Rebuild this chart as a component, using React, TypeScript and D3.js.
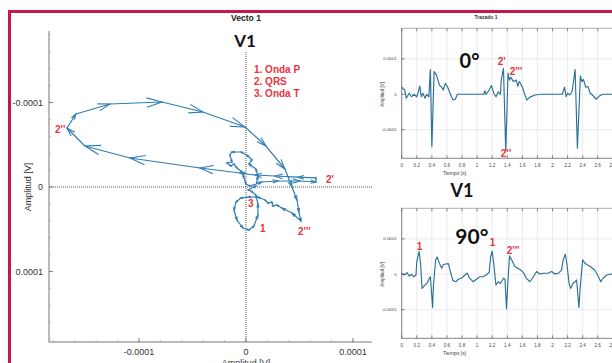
import React from "react";
import * as d3 from "d3";

// ---------- Left: vectorcardiogram loop (units of 1e-4 V) ----------
const VCG: [number, number][] = [
  [0.019, 0.036], [0.093, -0.012], [0.112, -0.13], [0.093, -0.213], [0.028, -0.272], [0.056, -0.32],
  [0.009, -0.379], [-0.047, -0.414], [-0.131, -0.414], [-0.15, -0.379], [-0.131, -0.296], [-0.178, -0.284],
  [-0.14, -0.249], [-0.112, -0.272], [-0.084, -0.225], [-0.037, -0.178], [-0.019, -0.107], [0.0, -0.036],
  [0.037, -0.012],
  [0.15, -0.059], [0.299, -0.071], [0.505, -0.071], [0.654, -0.059], [0.654, -0.107], [0.486, -0.118],
  [0.271, -0.13], [0.084, -0.142], [-0.056, -0.166], [-0.43, -0.225], [-1.084, -0.343], [-1.505, -0.485],
  [-1.673, -0.698], [-1.589, -0.864], [-1.271, -0.982], [-0.785, -1.006], [-0.402, -0.888], [-0.009, -0.71],
  [0.187, -0.485], [0.364, -0.213], [0.43, 0.0], [0.477, 0.154], [0.495, 0.296], [0.514, 0.402],
  [0.43, 0.308], [0.336, 0.249], [0.29, 0.213], [0.252, 0.225], [0.243, 0.178], [0.206, 0.189],
  [0.178, 0.154], [0.112, 0.118], [0.019, 0.118], [-0.047, 0.13],
  [-0.093, 0.178], [-0.112, 0.272], [-0.084, 0.391], [-0.028, 0.485], [0.028, 0.509], [0.075, 0.462],
  [0.112, 0.331], [0.112, 0.201], [0.093, 0.095], [0.047, 0.047], [0.019, 0.036],
];
const VCG_TICK_VALUES = [-1, 0, 1];
const VCG_TICK_LABELS = ["-0.0001", "0", "0.0001"];
const LEGEND_LINES = ["1. Onda P", "2. QRS", "3. Onda T"];
const VCG_NOTES: { text: string; x: number; y: number }[] = [
  { text: "2''", x: -1.785, y: -0.639 },
  { text: "2'", x: 0.748, y: -0.047 },
  { text: "3", x: 0.019, y: 0.237 },
  { text: "1", x: 0.131, y: 0.533 },
  { text: "2'''", x: 0.486, y: 0.568 },
];

// ---------- Right: lead traces, time [s] vs amplitude (units of 1e-4 V) ----------
const LEAD_0: [number, number][] = [
  [0.0, 0.2], [0.04, 0.12], [0.06, -0.11], [0.1, 0.03], [0.13, -0.07], [0.16, 0.0], [0.2, -0.07],
  [0.22, 0.07], [0.24, 0.23], [0.26, -0.07], [0.28, 0.03], [0.31, -0.11], [0.33, 0.0], [0.36, -0.07],
  [0.38, 0.7], [0.4, -1.48], [0.43, 0.64], [0.46, 0.55], [0.5, 0.26], [0.53, 0.2], [0.55, 0.12],
  [0.58, 0.31], [0.61, 0.2], [0.66, -0.07], [0.68, -0.16], [0.71, -0.14], [0.74, 0.0], [1.09, 0.0],
  [1.1, 0.1], [1.12, 0.0], [1.16, 0.12], [1.19, 0.25], [1.22, 0.03], [1.25, -0.07], [1.28, 0.07],
  [1.31, 0.0], [1.32, 0.4], [1.35, 0.73], [1.38, -1.62], [1.41, 0.6], [1.43, 0.4], [1.45, 0.48],
  [1.48, 0.36], [1.52, 0.4], [1.54, 0.23], [1.56, 0.36], [1.6, 0.21], [1.63, 0.0], [1.66, -0.16],
  [1.7, -0.08], [1.77, -0.02], [1.85, 0.0], [2.13, 0.0], [2.16, 0.2], [2.18, -0.07], [2.2, 0.03],
  [2.23, -0.02], [2.26, 0.08], [2.3, 0.7], [2.33, -1.52], [2.37, 0.52], [2.39, 0.36], [2.41, 0.42],
  [2.44, 0.2], [2.47, 0.22], [2.5, 0.03], [2.53, -0.02], [2.58, -0.14], [2.62, -0.05], [2.67, 0.0],
  [2.8, 0.0],
];
const LEAD_90: [number, number][] = [
  [0.0, 0.03], [0.04, -0.02], [0.07, 0.05], [0.1, -0.05], [0.13, 0.0], [0.16, -0.07], [0.19, -0.02],
  [0.2, 0.36], [0.23, 0.65], [0.25, 0.31], [0.27, -0.4], [0.31, -0.3], [0.34, -0.24], [0.36, -0.14],
  [0.38, -0.07], [0.41, -0.94], [0.42, -0.35], [0.45, 0.41], [0.47, 0.49], [0.5, 0.31], [0.53, 0.17],
  [0.55, 0.27], [0.58, 0.29], [0.62, 0.3], [0.64, 0.12], [0.68, -0.18], [0.72, -0.21], [0.75, -0.14],
  [0.79, -0.11], [0.84, -0.02], [0.87, 0.03], [0.9, -0.11], [0.95, -0.21], [0.99, -0.14], [1.04, -0.07],
  [1.08, -0.07], [1.12, -0.02], [1.16, 0.05], [1.18, 0.5], [1.2, 0.65], [1.22, 0.31], [1.25, -0.3],
  [1.28, -0.21], [1.31, -0.26], [1.35, -0.11], [1.37, -0.14], [1.39, -0.97], [1.41, -0.16], [1.43, 0.52],
  [1.47, 0.36], [1.5, 0.22], [1.54, 0.17], [1.58, 0.12], [1.62, 0.03], [1.65, -0.11], [1.7, -0.21],
  [1.74, -0.09], [1.79, 0.08], [1.83, 0.01], [1.88, 0.03], [1.94, 0.03], [1.99, 0.08], [2.03, 0.01],
  [2.08, 0.03], [2.12, 0.12], [2.14, 0.39], [2.17, 0.57], [2.19, 0.31], [2.22, -0.26], [2.24, -0.4],
  [2.27, -0.26], [2.3, -0.21], [2.32, -0.16], [2.35, -0.94], [2.37, -0.3], [2.4, 0.41], [2.43, 0.31],
  [2.46, 0.27], [2.5, 0.22], [2.53, 0.17], [2.56, 0.12], [2.61, -0.07], [2.64, -0.21], [2.67, -0.11],
  [2.72, -0.02], [2.79, 0.01],
];
const TIME_TICKS = [0, 0.2, 0.4, 0.6, 0.8, 1, 1.2, 1.4, 1.6, 1.8, 2, 2.2, 2.4, 2.6, 2.8, 3];
const TIME_LABELS = ["0", "0.2", "0.4", "0.6", "0.8", "1", "1.2", "1.4", "1.6", "1.8", "2", "2.2", "2.4", "2.6", "2.8", "3"];
const AMP_TICKS = [-1, 0, 1];
const AMP_LABELS = ["-0.0001", "0", "0.0001"];
const NOTES_0: { text: string; t: number; v: number }[] = [
  { text: "2'", t: 1.273, v: 0.83 },
  { text: "2'''", t: 1.432, v: 0.545 },
  { text: "2''", t: 1.313, v: -1.78 },
];
const NOTES_90: { text: string; t: number; v: number }[] = [
  { text: "1", t: 0.199, v: 0.686 },
  { text: "1", t: 1.167, v: 0.8 },
  { text: "2'''", t: 1.393, v: 0.573 },
];

const RED = "#e8343c";
const BLUE = "#2f7db4";
const TRACE = "#2a7199";
const SANS = "'Liberation Sans', Arial, sans-serif";
const BIG = "Lato, 'Open Sans', sans-serif";

function LeftPlot() {
  const x = d3.scaleLinear().domain([-1.841, 1.178]).range([49, 372]);
  const y = d3.scaleLinear().domain([-1.846, 1.834]).range([31, 342]);
  const pts = VCG.map(([a, b]) => [x(a), y(b)] as [number, number]);
  const line = d3.line<[number, number]>().x((d) => d[0]).y((d) => d[1]);
  const heads = pts.slice(1).map((p, i) => {
    const q = pts[i];
    const dx = p[0] - q[0];
    const dy = p[1] - q[1];
    const len = Math.hypot(dx, dy);
    const h = Math.min(0.35 * len, 16);
    const ang = Math.atan2(dy, dx);
    const a = 0.3;
    const w1 = [p[0] - h * Math.cos(ang - a), p[1] - h * Math.sin(ang - a)];
    const w2 = [p[0] - h * Math.cos(ang + a), p[1] - h * Math.sin(ang + a)];
    return `M${w1[0]},${w1[1]}L${p[0]},${p[1]}L${w2[0]},${w2[1]}`;
  });
  const minorX = d3.range(-1.8, 1.2, 0.2);
  const minorY = d3.range(-1.8, 1.81, 0.2);
  return (
    <g>
      <text x={246} y={21} textAnchor="middle" fontFamily={SANS} fontWeight="bold" fontSize={8.6} fill="#222">
        Vecto 1
      </text>
      {/* dotted cross at origin */}
      <line x1={x(0)} x2={x(0)} y1={52} y2={342} stroke="#555" strokeWidth={1} strokeDasharray="1 1" />
      <line x1={49} x2={372} y1={y(0)} y2={y(0)} stroke="#555" strokeWidth={1} strokeDasharray="1 1" />
      {/* axes */}
      <line x1={49} x2={49} y1={31} y2={342} stroke="#777" strokeWidth={1} />
      <line x1={49} x2={372} y1={342} y2={342} stroke="#777" strokeWidth={1} />
      {minorX.map((v, i) => (
        <line key={"mx" + i} x1={x(v)} x2={x(v)} y1={342} y2={340} stroke="#999" strokeWidth={0.6} />
      ))}
      {minorY.map((v, i) => (
        <line key={"my" + i} x1={49} x2={51} y1={y(v)} y2={y(v)} stroke="#999" strokeWidth={0.6} />
      ))}
      {VCG_TICK_VALUES.map((v, i) => (
        <g key={"t" + i}>
          <line x1={49} x2={53} y1={y(v)} y2={y(v)} stroke="#666" strokeWidth={0.8} />
          <line x1={x(v)} x2={x(v)} y1={342} y2={338} stroke="#666" strokeWidth={0.8} />
          <text x={43} y={y(v) + 3.2} textAnchor="end" fontFamily={SANS} fontSize={9} fill="#333">
            {VCG_TICK_LABELS[i]}
          </text>
          <text x={x(v)} y={355} textAnchor="middle" fontFamily={SANS} fontSize={9} fill="#333">
            {VCG_TICK_LABELS[i]}
          </text>
        </g>
      ))}
      <text x={246} y={366} textAnchor="middle" fontFamily={SANS} fontSize={9} fill="#333">
        Amplitud [V]
      </text>
      <text transform={`translate(31,187) rotate(-90)`} textAnchor="middle" fontFamily={SANS} fontSize={9} fill="#333">
        Amplitud [V]
      </text>
      {/* loop */}
      <path d={line(pts) || ""} fill="none" stroke={BLUE} strokeWidth={1.2} strokeLinejoin="round" />
      {heads.map((d, i) => (
        <path key={"h" + i} d={d} fill="none" stroke={BLUE} strokeWidth={1.1} />
      ))}
      <text x={245} y={47} textAnchor="middle" fontFamily={BIG} fontWeight="bold" fontSize={17} fill="#111">
        V1
      </text>
      {LEGEND_LINES.map((s, i) => (
        <text key={"l" + i} x={254} y={72.5 + i * 12} fontFamily={SANS} fontWeight="bold" fontSize={10} fill={RED}>
          {s}
        </text>
      ))}
      {VCG_NOTES.map((n, i) => (
        <text key={"n" + i} x={x(n.x)} y={y(n.y)} fontFamily={SANS} fontWeight="bold" fontSize={10} fill={RED}>
          {n.text}
        </text>
      ))}
    </g>
  );
}

function LeadPanel({ data, top, bottom, title, notes }: {
  data: [number, number][];
  top: number;
  bottom: number;
  title?: string;
  notes: { text: string; t: number; v: number }[];
}) {
  const left = 401.7;
  const x = d3.scaleLinear().domain([0, 3]).range([left, left + 226.2]);
  const y = d3.scaleLinear().domain([-1.808, 1.864]).range([bottom, top]);
  const line = d3.line<[number, number]>().x((d) => x(d[0])).y((d) => y(d[1]));
  const right = x(3);
  return (
    <g>
      {TIME_TICKS.map((t, i) => (
        <line key={"gv" + i} x1={x(t)} x2={x(t)} y1={top} y2={bottom} stroke="#e2e2e2" strokeWidth={0.7} />
      ))}
      {AMP_TICKS.map((v, i) => (
        <line key={"gh" + i} x1={left} x2={right} y1={y(v)} y2={y(v)} stroke="#e2e2e2" strokeWidth={0.7} />
      ))}
      <path d={line(data) || ""} fill="none" stroke={TRACE} strokeWidth={1.15} strokeLinejoin="round" />
      <line x1={left} x2={right} y1={top} y2={top} stroke="#888" strokeWidth={0.7} />
      <line x1={left} x2={right} y1={bottom} y2={bottom} stroke="#666" strokeWidth={0.8} />
      <line x1={left} x2={left} y1={top} y2={bottom} stroke="#666" strokeWidth={0.8} />
      {TIME_TICKS.map((t, i) => (
        <g key={"tt" + i}>
          <line x1={x(t)} x2={x(t)} y1={bottom} y2={bottom - 3} stroke="#555" strokeWidth={0.7} />
          <line x1={x(t)} x2={x(t)} y1={top} y2={top + 3} stroke="#555" strokeWidth={0.7} />
          <text x={x(t)} y={bottom + 9} textAnchor="middle" fontFamily={SANS} fontSize={4.6} fill="#444">
            {TIME_LABELS[i]}
          </text>
        </g>
      ))}
      {AMP_TICKS.map((v, i) => (
        <g key={"at" + i}>
          <line x1={left} x2={left + 3} y1={y(v)} y2={y(v)} stroke="#555" strokeWidth={0.7} />
          <text x={left - 5} y={y(v) + 1.6} textAnchor="end" fontFamily={SANS} fontSize={4.4} fill="#444">
            {AMP_LABELS[i]}
          </text>
        </g>
      ))}
      <text x={x(0.7)} y={bottom + 16.5} textAnchor="middle" fontFamily={SANS} fontSize={5} fill="#444">
        Tiempo [s]
      </text>
      <text transform={`translate(383.5,${y(0)}) rotate(-90)`} textAnchor="middle" fontFamily={SANS} fontSize={4.6} fill="#444">
        Amplitud [V]
      </text>
      {title && (
        <text x={486} y={top - 9} textAnchor="middle" fontFamily={SANS} fontWeight="bold" fontSize={5} fill="#333">
          {title}
        </text>
      )}
      {notes.map((n, i) => (
        <text key={"nn" + i} x={x(n.t)} y={y(n.v)} fontFamily={SANS} fontWeight="bold" fontSize={10} fill={RED}>
          {n.text}
        </text>
      ))}
    </g>
  );
}

export default function App() {
  const t = d3.scaleLinear().domain([0, 3]).range([401.7, 627.9]);
  const yTop = d3.scaleLinear().domain([-1.808, 1.864]).range([158.3, 28.3]);
  const yBot = d3.scaleLinear().domain([-1.808, 1.864]).range([338.3, 208.3]);
  return (
    <svg
      width={612}
      height={363}
      viewBox="0 0 612 363"
      style={{ position: "absolute", left: 0, top: 0, background: "#fff" }}
    >
      <rect x={0} y={0} width={612} height={363} fill="#fff" />
      <LeftPlot />
      <LeadPanel data={LEAD_0} top={28.3} bottom={158.3} title="Trazado 1" notes={NOTES_0} />
      <LeadPanel data={LEAD_90} top={208.3} bottom={338.3} notes={NOTES_90} />
      <text x={t(0.9)} y={yTop(0.743)} textAnchor="middle" fontFamily={BIG} fontWeight="bold" fontSize={20} fill="#111">
        0°
      </text>
      <text x={t(0.93)} y={yBot(0.856)} textAnchor="middle" fontFamily={BIG} fontWeight="bold" fontSize={21} fill="#111">
        90°
      </text>
      <text x={462} y={197} textAnchor="middle" fontFamily={BIG} fontWeight="bold" fontSize={18} fill="#111">
        V1
      </text>
      {/* crimson frame */}
      <rect x={8} y={10} width={604} height={3} fill="#c4174a" />
      <rect x={8} y={10} width={3} height={353} fill="#c4174a" />
    </svg>
  );
}
